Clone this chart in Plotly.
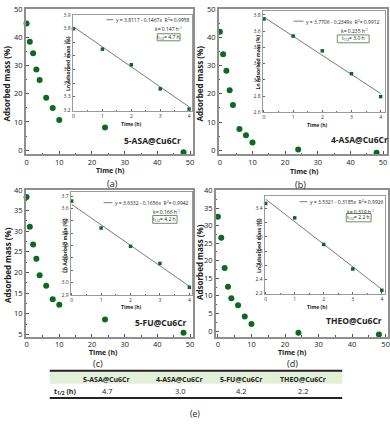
import plotly.graph_objects as go

W, H = 390, 424

# ---------------- data ----------------
time_h = [0, 1, 2, 3, 4, 6, 8, 10, 24, 48]
mass_5asa = [44.8, 38.4, 34.3, 28.6, 24.8, 18.6, 14.9, 10.7, 8.0, -0.7]
mass_4asa = [41.9, 34.0, 28.2, 21.3, 16.1, 7.6, 5.4, 2.8, 0.3, -0.8]
mass_5fu = [38.3, 31.1, 26.8, 23.3, 19.3, 16.8, 13.5, 12.2, 8.6, 5.4]
mass_theo = [32.5, 26.5, 17.9, 12.6, 9.3, 7.3, 4.1, 2.0, -0.5, -1.0]

fit_time = [0, 1, 2, 3, 4]
ln_5asa = [3.798, 3.648, 3.534, 3.357, 3.209]
ln_4asa = [3.748, 3.538, 3.356, 3.075, 2.793]
ln_5fu = [3.660, 3.442, 3.294, 3.156, 2.963]
ln_theo = [3.472, 3.268, 2.893, 2.546, 2.244]

intercepts = [3.8117, 3.7706, 3.6332, 3.5321]
slopes = [-0.1467, -0.2349, -0.1656, -0.3185]
r2_vals = ["0.9958", "0.9912", "0.9942", "0.9926"]
k_vals = ["0.147", "0.235", "0.166", "0.319"]
t_half = ["4.7", "3.0", "4.2", "2.2"]
samples = ["5-ASA@Cu6Cr", "4-ASA@Cu6Cr", "5-FU@Cu6Cr", "THEO@Cu6Cr"]
panel_tags = ["(a)", "(b)", "(c)", "(d)"]
table_row_label = "t<sub>1/2</sub> (h)"

mass_series = [mass_5asa, mass_4asa, mass_5fu, mass_theo]
ln_series = [ln_5asa, ln_4asa, ln_5fu, ln_theo]

# ---------------- layout geometry (pixels) ----------------
main = [
    dict(x0=25, x1=193, y0=4, y1=152, xr=[-0.21, 50.9], yr=[-1.4, 50], ydt=10),
    dict(x0=219, x1=388, y0=4, y1=152, xr=[-0.3, 51.2], yr=[-1.3, 50], ydt=10),
    dict(x0=25, x1=193, y0=188.5, y1=338, xr=[-0.21, 50.9], yr=[4.45, 40], ydt=5),
    dict(x0=216, x1=389, y0=189, y1=338, xr=[-0.6, 50.7], yr=[-1.6, 40], ydt=5),
]
ins = [
    dict(x0=72, x1=192, y0=10, y1=108, xr=[-0.03, 4.10], yr=[3.195, 3.9], ydt=0.1),
    dict(x0=263, x1=386, y0=6, y1=109.5, xr=[-0.045, 4.15], yr=[2.598, 3.848], ydt=0.2),
    dict(x0=70, x1=192, y0=191, y1=296, xr=[-0.035, 4.09], yr=[2.897, 3.73], ydt=0.1),
    dict(x0=265, x1=386, y0=195, y1=295, xr=[-0.035, 4.11], yr=[2.186, 3.573], ydt=0.2),
]
# text positions (pixels)
ytitle_pos = [(6, 80), (200, 80), (6, 265), (199, 262)]
xtitle_pos = [(110, 168.5), (305, 170), (103, 354.5), (293, 354.5)]
tag_pos = [(112, 181.5), (301, 183), (97, 365), (293, 365)]
sample_pos = [(152, 138), (360, 137.5), (161, 323.5), (355, 322)]
ins_ytitle = [(67.5, 60), (258, 58), (65, 245), (260, 245)]
ins_xtitle = [(131, 121), (318, 122), (131, 307.5), (318, 307.5)]
leg_line = [(106, 113, 15), (294, 304, 16.5), (103, 112, 201.5), (300, 308, 200.5)]
k_pos = [(168, 24), (355, 26), (166, 210.5), (361, 210)]
box = [(157, 180, 29.3, 36.5), (338, 370, 30.5, 38.5), (152.5, 177, 214.5, 222.5), (347, 372, 212.5, 221)]

FONT = "Open Sans"
GREEN = "#0c6a1e"
FRAME = "#8f8f8f"
TINY = 5

def X(px):
    return px / W

def Y(py):
    return 1 - py / H

fig = go.Figure()
layout = dict(
    width=W, height=H,
    margin=dict(l=0, r=0, t=0, b=0),
    paper_bgcolor="white", plot_bgcolor="white",
    showlegend=False,
    font=dict(family=FONT, color="#222", size=8),
)
annotations = []
shapes = []

def ann(text, x, y, size, bold=False, color="#222", textangle=0, xanchor="center"):
    annotations.append(dict(
        text=("<b>%s</b>" % text) if bold else text,
        x=X(x), y=Y(y), xref="paper", yref="paper",
        xanchor=xanchor, yanchor="middle", showarrow=False, textangle=textangle,
        borderpad=0,
        font=dict(family=FONT, size=size, color=color),
    ))

for i in range(4):
    m = main[i]
    n = ins[i]
    ma, mb = 2 * i + 1, 2 * i + 2
    xa_m = "xaxis" if ma == 1 else "xaxis%d" % ma
    ya_m = "yaxis" if ma == 1 else "yaxis%d" % ma
    xa_i = "xaxis%d" % mb
    ya_i = "yaxis%d" % mb
    tx_m = "x" if ma == 1 else "x%d" % ma
    ty_m = "y" if ma == 1 else "y%d" % ma
    tx_i = "x%d" % mb
    ty_i = "y%d" % mb

    layout[xa_m] = dict(domain=[X(m["x0"]), X(m["x1"])], range=m["xr"], anchor=ty_m,
                        dtick=10, tick0=0, showgrid=False, zeroline=False,
                        showline=True, mirror=True, linecolor=FRAME, linewidth=1.5,
                        ticks="inside", ticklen=3, tickcolor="#555",
                        minor=dict(ticks="inside", ticklen=1.5, dtick=5, tickcolor="#555"),
                        tickfont=dict(size=7.5, color="#222"))
    layout[ya_m] = dict(domain=[Y(m["y1"]), Y(m["y0"])], range=m["yr"], anchor=tx_m,
                        dtick=m["ydt"], tick0=0, showgrid=False, zeroline=False,
                        showline=True, mirror=True, linecolor=FRAME, linewidth=1.5,
                        ticks="inside", ticklen=3, tickcolor="#555",
                        minor=dict(ticks="inside", ticklen=1.5, dtick=m["ydt"] / 2, tickcolor="#555"),
                        tickfont=dict(size=7.5, color="#222"))
    layout[xa_i] = dict(domain=[X(n["x0"]), X(n["x1"])], range=n["xr"], anchor=ty_i,
                        dtick=1, tick0=0, showgrid=False, zeroline=False,
                        showline=True, mirror=True, linecolor="#9a9a9a", linewidth=1,
                        ticks="inside", ticklen=2, tickcolor="#666",
                        minor=dict(ticks="inside", ticklen=1, dtick=0.5, tickcolor="#666"),
                        tickfont=dict(size=TINY, color="#333"))
    layout[ya_i] = dict(domain=[Y(n["y1"]), Y(n["y0"])], range=n["yr"], anchor=tx_i,
                        dtick=n["ydt"], tick0=0, showgrid=False, zeroline=False,
                        showline=True, mirror=True, linecolor="#9a9a9a", linewidth=1,
                        ticks="inside", ticklen=2, tickcolor="#666",
                        tickformat=".1f",
                        tickfont=dict(size=TINY, color="#333"))

    # main scatter
    fig.add_trace(go.Scatter(x=time_h, y=mass_series[i], mode="markers",
                             marker=dict(color=GREEN, size=6, line=dict(width=0)),
                             xaxis=tx_m, yaxis=ty_m, cliponaxis=False))
    # inset fit line from regression coefficients
    fit_x = [fit_time[0], fit_time[-1]]
    fit_y = [intercepts[i] + slopes[i] * t for t in fit_x]
    fig.add_trace(go.Scatter(x=fit_x, y=fit_y, mode="lines",
                             line=dict(color="#7a7a7a", width=1),
                             xaxis=tx_i, yaxis=ty_i))
    fig.add_trace(go.Scatter(x=fit_time, y=ln_series[i], mode="markers",
                             marker=dict(color=GREEN, size=3.5, symbol="square", line=dict(width=0)),
                             xaxis=tx_i, yaxis=ty_i, cliponaxis=False))

    # texts
    ann("Adsorbed mass (%)", *ytitle_pos[i], 8, bold=True, textangle=-90)
    ann("Time (h)", *xtitle_pos[i], 7, bold=True)
    ann(panel_tags[i], *tag_pos[i], 9)
    ann(samples[i], *sample_pos[i], 8.5, bold=True)
    ann("Ln Adsorbed mass (%)", *ins_ytitle[i], TINY, bold=True, textangle=-90)
    ann("Time (h)", *ins_xtitle[i], TINY, bold=True)

    lx0, lx1, ly = leg_line[i]
    shapes.append(dict(type="line", xref="paper", yref="paper",
                       x0=X(lx0), x1=X(lx1), y0=Y(ly), y1=Y(ly),
                       line=dict(color="#7a7a7a", width=1)))
    sign = "-" if slopes[i] < 0 else "+"
    eq = "y = %.4f %s %.4fx  R<sup>2</sup>= %s" % (intercepts[i], sign, abs(slopes[i]), r2_vals[i])
    ann(eq, lx1 + 1.5, ly, TINY, xanchor="left")
    ann("k= %s h<sup>-1</sup>" % k_vals[i], *k_pos[i], TINY)
    bx0, bx1, by0, by1 = box[i]
    shapes.append(dict(type="rect", xref="paper", yref="paper",
                       x0=X(bx0), x1=X(bx1), y0=Y(by1), y1=Y(by0),
                       line=dict(color="#6f8f5f", width=1), fillcolor="rgba(0,0,0,0)"))
    ann("t<sub>1/2</sub>= %s h" % t_half[i], (bx0 + bx1) / 2, (by0 + by1) / 2, TINY)

# ---------------- table (e) ----------------
tab_x0, tab_x1 = 49, 343
shapes.append(dict(type="rect", xref="paper", yref="paper",
                   x0=X(tab_x0), x1=X(tab_x1), y0=Y(386), y1=Y(373),
                   line=dict(width=0), fillcolor="#e3efd9", layer="below"))
shapes.append(dict(type="line", xref="paper", yref="paper",
                   x0=X(tab_x0), x1=X(tab_x1), y0=Y(372.7), y1=Y(372.7),
                   line=dict(color="#222", width=2)))
shapes.append(dict(type="line", xref="paper", yref="paper",
                   x0=X(tab_x0), x1=X(tab_x1), y0=Y(400.5), y1=Y(400.5),
                   line=dict(color="#222", width=2)))
col_x = [106.7, 180, 241.7, 304.3]
for j in range(4):
    ann(samples[j], col_x[j], 381.5, 7, bold=True)
    ann(t_half[j], col_x[j], 393.5, 7.5)
ann(table_row_label, 52, 393.5, 7, bold=True, xanchor="left")
ann("(e)", 195, 416.5, 8.5)

layout["annotations"] = annotations
layout["shapes"] = shapes
fig.update_layout(**layout)
fig.write_html("out.html",
               config={"displayModeBar": False},
               post_script="document.body.style.margin='0';document.body.style.overflow='hidden';")
